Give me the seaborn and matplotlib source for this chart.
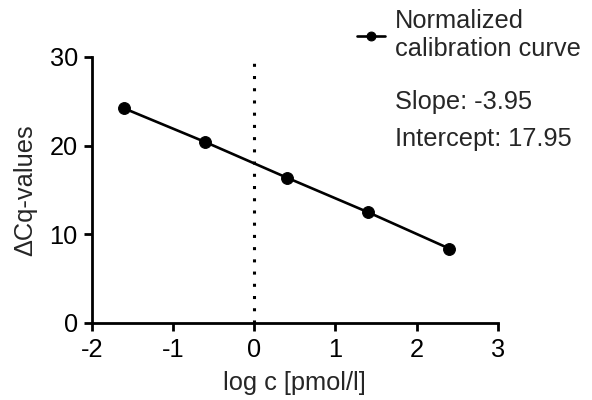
import matplotlib
matplotlib.use("Agg")
import matplotlib.pyplot as plt
import seaborn as sns
import pandas as pd

log_c = [-1.6, -0.6, 0.4, 1.4, 2.4]
delta_cq = [24.2, 20.4, 16.4, 12.5, 8.4]
series_name = "Normalized\ncalibration curve"
slope_text = "Slope: -3.95"
intercept_text = "Intercept: 17.95"
x_ticks = [-2, -1, 0, 1, 2, 3]
y_ticks = [0, 10, 20, 30]

sns.set_style("ticks")
plt.rcParams['font.family'] = ['Liberation Sans', 'DejaVu Sans']
plt.rcParams['axes.unicode_minus'] = False

FS = 18.3

df = pd.DataFrame({"x": log_c, "y": delta_cq, "s": series_name})

fig = plt.figure(figsize=(5.92, 4.0), dpi=100)
ax = fig.add_axes([0.155, 0.1925, 0.686, 0.665])

ax.plot([0, 0], [0, 30], color="black", lw=2.2, linestyle=(0, (1, 3)), zorder=1)
sns.lineplot(data=df, x="x", y="y", hue="s", palette=["black"], marker="o",
             markersize=8.5, linewidth=1.9, markeredgecolor="black", ax=ax, zorder=3)

ax.set_xlim(-2, 3)
ax.set_ylim(0, 30)
ax.set_xticks(x_ticks)
ax.set_yticks(y_ticks)
ax.tick_params(axis="both", labelsize=FS, width=2, length=6, color="black", labelcolor="black")
ax.tick_params(axis="y", pad=4)
ax.tick_params(axis="x", pad=5)
for sp in ["left", "bottom"]:
    ax.spines[sp].set_linewidth(2)
    ax.spines[sp].set_color("black")
sns.despine(ax=ax)
ax.set_xlabel("log c [pmol/l]", fontsize=FS, labelpad=6)
ax.set_ylabel("ΔCq-values", fontsize=FS, labelpad=9)

leg = ax.legend(loc="upper left", bbox_to_anchor=(0.586, 1.002), bbox_transform=fig.transFigure,
                frameon=False, fontsize=FS, handlelength=1.1, handletextpad=0.4,
                borderaxespad=0, markerscale=0.75, labelspacing=0.2)
fig.text(0.667, 0.728, slope_text, fontsize=FS, va="baseline", ha="left")
fig.text(0.667, 0.635, intercept_text, fontsize=FS, va="baseline", ha="left")

fig.savefig("out.png", dpi=100)
